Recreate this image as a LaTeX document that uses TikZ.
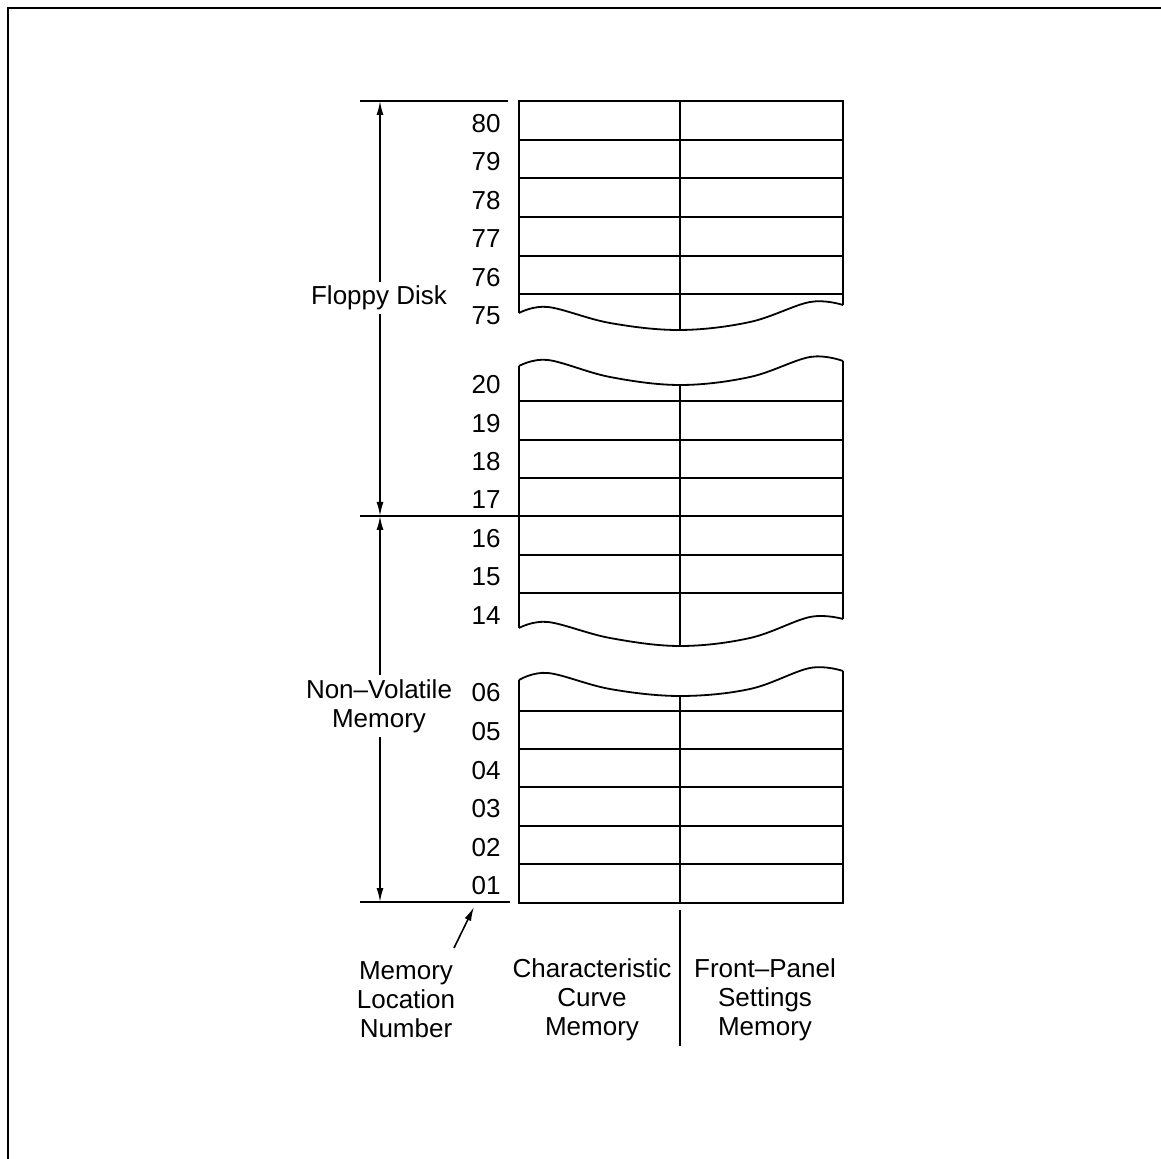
\documentclass[tikz,border=0pt]{standalone}
\usepackage{fontspec}
\setmainfont{Liberation Sans}
\usetikzlibrary{arrows.meta}
\begin{document}
\begin{tikzpicture}[x=0.5pt,y=-0.5pt,
  ln/.style={line width=0.9pt,black},
  txt/.style={font=\fontsize{13}{14.5}\selectfont,inner sep=1pt,align=center},
  num/.style={font=\fontsize{13}{14.5}\selectfont,inner sep=0pt},
  dim/.style={line width=0.8pt,{Latex[length=7pt,width=3.5pt]}-{Latex[length=7pt,width=3.5pt]}},
  lab/.style={txt,fill=white,inner sep=2pt}]
\useasboundingbox (0,0) rectangle (1161,1159);
% frame
\draw[line width=1.3pt] (1161,8) -- (8,8) -- (8,1159);

% ---- block 1 (80..75)
\draw[ln] (519,313) -- (519,101) -- (843,101) -- (843,305);
\draw[ln] (680,101) -- (680,330);
\foreach \y in {140,178,217,256,294} \draw[ln] (519,\y) -- (843,\y);
\draw[ln] plot[smooth,tension=0.6] coordinates {(519,313) (548,307) (610,323) (680,330) (750,322) (810,302) (843,305)};

% ---- block 2 (20..14)
\draw[ln] plot[smooth,tension=0.6] coordinates {(519,366) (548,360) (610,377) (680,385) (750,377) (810,357) (843,361)};
\draw[ln] (519,366) -- (519,628);
\draw[ln] (843,361) -- (843,619);
\draw[ln] (680,385) -- (680,646);
\foreach \y in {401,440,478,555,593} \draw[ln] (519,\y) -- (843,\y);
\draw[ln] plot[smooth,tension=0.6] coordinates {(519,628) (548,622) (610,638) (680,646) (750,638) (810,617) (843,619)};

% ---- block 3 (06..01)
\draw[ln] plot[smooth,tension=0.6] coordinates {(519,680) (548,673) (610,689) (680,696) (750,689) (810,668) (843,671)};
\draw[ln] (519,680) -- (519,903) -- (843,903) -- (843,671);
\draw[ln] (680,696) -- (680,903);
\foreach \y in {711,749,787,826,864} \draw[ln] (519,\y) -- (843,\y);

% reference lines
\coordinate (t0) at (360,101); \coordinate (t1) at (508,101);
\coordinate (m0) at (360,516); \coordinate (m1) at (843,516);
\coordinate (b0) at (360,902); \coordinate (b1) at (510,902);
\draw[ln] (t0) -- (t1);
\draw[ln] (m0) -- (m1);
\draw[ln] (b0) -- (b1);

% numbers
\foreach \n/\y in {80/124,79/162,78/201,77/239,76/278,75/316,20/385,19/424,18/462,17/500,16/539,15/577,14/616,06/693,05/732,04/771,03/809,02/848,01/886}
  \node[num] (n\n) at (486,\y) {\n};

% dimension arrows
\coordinate (a1) at (380,101); \coordinate (a2) at (380,516); \coordinate (a3) at (380,902);
\draw[dim] (a1) -- (a2);
\draw[dim] (a2) -- (a3);
\node[lab] (fd) at (379,298) {Floppy Disk};
\node[lab] (nv) at (379,706) {Non–Volatile\\Memory};

% bottom labels
\node[txt] (mln) at (406,1000) {Memory\\Location\\Number};
\node[txt] (ccm) at (592,1000) {Characteristic\\Curve\\Memory};
\node[txt] (fps) at (765,1000) {Front–Panel\\Settings\\Memory};
\coordinate (v0) at (680,910); \coordinate (v1) at (680,1046);
\draw[ln] (v0) -- (v1);
\coordinate (p0) at (454,948); \coordinate (p1) at (474,907);
\draw[line width=0.8pt,-{Latex[length=7pt,width=3.5pt]}] (p0) -- (p1);
\end{tikzpicture}
\end{document}
